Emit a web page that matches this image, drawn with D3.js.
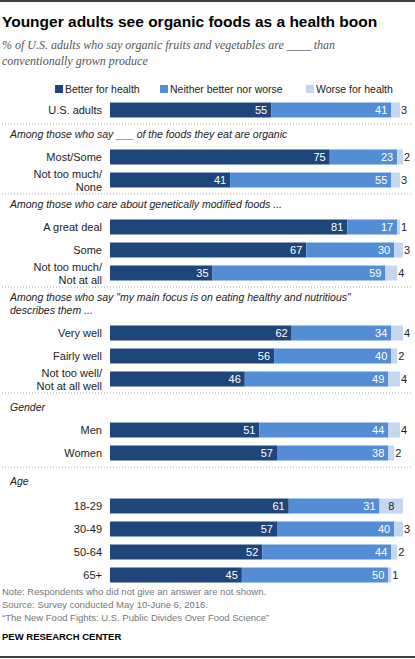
<!DOCTYPE html>
<html><head><meta charset="utf-8">
<script src="https://cdn.jsdelivr.net/npm/d3@7"></script>
<style>body{margin:0;background:#fff}svg{display:block}</style>
</head><body><div id="chart"></div>
<script>
var series = ["Better for health", "Neither better nor worse", "Worse for health"];
var colors = ["#1f467a", "#538dd5", "#c5d7ef"];

var groupHeaders = [
  [],
  ["Among those who say ___ of the foods they eat are organic"],
  ["Among those who care about genetically modified foods ..."],
  ["Among those who say \"my main focus is on eating healthy and nutritious\"", "describes them ..."],
  ["Gender"],
  ["Age"]
];
var groupRows = [
  [["U.S. adults"]],
  [["Most/Some"], ["Not too much/", "None"]],
  [["A great deal"], ["Some"], ["Not too much/", "Not at all"]],
  [["Very well"], ["Fairly well"], ["Not too well/", "Not at all well"]],
  [["Men"], ["Women"]],
  [["18-29"], ["30-49"], ["50-64"], ["65+"]]
];
var better = [[55], [75, 41], [81, 67, 35], [62, 56, 46], [51, 57], [61, 57, 52, 45]];
var neither = [[41], [23, 55], [17, 30, 59], [34, 40, 49], [44, 38], [31, 40, 44, 50]];
var worse = [[3], [2, 3], [1, 3, 4], [4, 2, 4], [4, 2], [8, 3, 2, 1]];

var W = 415, H = 659;
var svg = d3.select("#chart").append("svg").attr("width", W).attr("height", H);
var font = "Liberation Sans, Arial, sans-serif";

svg.append("line").attr("x1", 0).attr("x2", W).attr("y1", 1).attr("y2", 1).attr("stroke", "#000").attr("stroke-width", 1.5);
svg.append("line").attr("x1", 0).attr("x2", W).attr("y1", 657).attr("y2", 657).attr("stroke", "#000").attr("stroke-width", 1.5);

svg.append("text").attr("x", 2).attr("y", 27).text("Younger adults see organic foods as a health boon")
  .attr("font-family", font).attr("font-weight", "bold").attr("font-size", 15.5).attr("fill", "#000");
var sub = svg.append("text").attr("font-family", "Liberation Serif, Georgia, serif").attr("font-style", "italic")
  .attr("font-size", 12).attr("fill", "#555");
sub.append("tspan").attr("x", 2).attr("y", 49).text("% of U.S. adults who say organic fruits and vegetables are ____ than");
sub.append("tspan").attr("x", 2).attr("y", 65).text("conventionally  grown produce");

// legend
var legX = [55, 160, 306];
series.forEach(function (s, i) {
  svg.append("rect").attr("x", legX[i]).attr("y", 85).attr("width", 8).attr("height", 8).attr("fill", colors[i]);
  svg.append("text").attr("x", legX[i] + 10).attr("y", 93).text(s)
    .attr("font-family", font).attr("font-size", 10.5).attr("fill", "#222");
});

var x = d3.scaleLinear().domain([0, 100]).range([110, 403]);
var barH = 15, pitch = 23;
var y = 110;

groupRows.forEach(function (rows, g) {
  if (g > 0) {
    svg.append("line").attr("x1", 2).attr("x2", 413).attr("y1", y - 12).attr("y2", y - 12)
      .attr("stroke", "#aaa").attr("stroke-dasharray", "1,2");
    y += (g === 4 || g === 5) ? 4 : 0;
    groupHeaders[g].forEach(function (h, k) {
      svg.append("text").attr("x", 10).attr("y", y + 2 + k * 13).text(h)
        .attr("font-family", font).attr("font-style", "italic").attr("font-size", 10.5).attr("fill", "#222");
    });
    y += 8 + groupHeaders[g].length * 13 + (g === 5 ? 2 : 0);
  }
  rows.forEach(function (lab, r) {
    var vals = [better[g][r], neither[g][r], worse[g][r]];
    var cum = 0;
    vals.forEach(function (v, i) {
      svg.append("rect").attr("x", x(cum)).attr("y", y - barH / 2).attr("width", x(cum + v) - x(cum))
        .attr("height", barH).attr("fill", colors[i]);
      cum += v;
      var t = svg.append("text").attr("y", y + 4).text(v).attr("font-family", font).attr("font-size", 11);
      if (i < 2) {
        t.attr("x", x(cum) - 4).attr("text-anchor", "end").attr("fill", "#fff");
      } else if (v >= 5) {
        t.attr("x", x(cum - v / 2)).attr("text-anchor", "middle").attr("fill", "#222");
      } else {
        t.attr("x", Math.max(x(cum) + 1, x(cum - v) + 0)).attr("text-anchor", "start").attr("fill", "#222");
      }
    });
    var lt = svg.append("text").attr("text-anchor", "end").attr("font-family", font).attr("font-size", 11).attr("fill", "#222");
    lab.forEach(function (l, k) {
      lt.append("tspan").attr("x", 102).attr("y", y + 4 + (k - (lab.length - 1) / 2) * 13).text(l);
    });
    y += pitch;
  });
  y += 3;
});

var notes = ["Note: Respondents who did not give an answer are not shown.",
  "Source: Survey conducted May 10-June 6, 2016.",
  "\u201cThe New Food Fights: U.S. Public Divides Over Food Science\u201d"];
notes.forEach(function (n, i) {
  svg.append("text").attr("x", 2).attr("y", 595 + i * 13).text(n)
    .attr("font-family", font).attr("font-size", 9.5).attr("fill", "#777");
});
svg.append("text").attr("x", 2).attr("y", 640).text("PEW RESEARCH CENTER")
  .attr("font-family", font).attr("font-weight", "bold").attr("font-size", 9.5).attr("fill", "#000");
</script></body></html>
